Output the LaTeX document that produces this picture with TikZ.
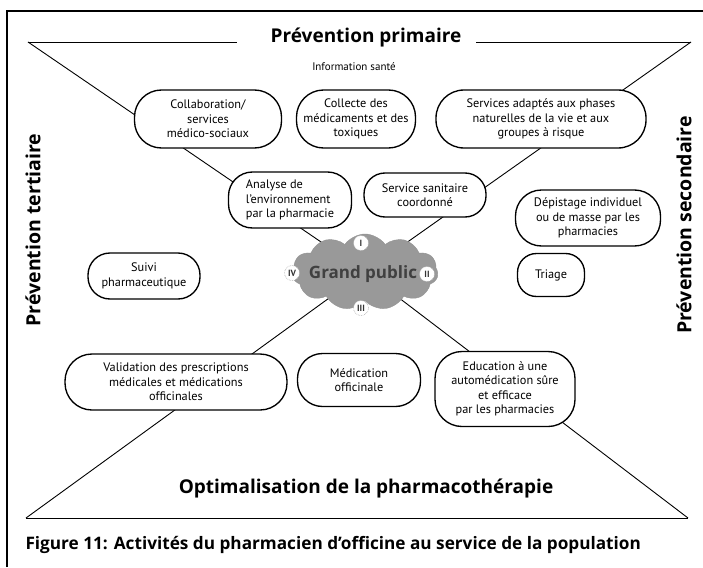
\documentclass[tikz,border=0pt]{standalone}
\usepackage{fontspec}
\setmainfont{PT Sans}
\newfontfamily\headfont{Open Sans}
\usetikzlibrary{shapes.symbols}
\tikzset{
  pill/.style={draw, line width=1.35pt, fill=white, align=center, inner sep=0pt,
    font=\fontsize{12.3}{14.5}\selectfont},
  roman/.style={circle, draw=gray!70, densely dotted, line width=0.6pt, fill=white,
    inner sep=0pt, minimum size=15pt, font=\fontsize{9}{9}\selectfont\bfseries, text=black!80},
  heading/.style={font=\headfont\fontsize{19}{19}\selectfont\bfseries},
  sideheading/.style={font=\headfont\fontsize{19.5}{19.5}\selectfont\bfseries, rotate=90},
  xline/.style={line width=0.9pt}
}
\begin{document}
\begin{tikzpicture}[x=1pt,y=-1pt]
\useasboundingbox (0,0) rectangle (703,567);
\fill[white] (0,0) rectangle (703,567);
% frame
\coordinate (f0) at (7,567);
\coordinate (f1) at (7,11);
\coordinate (f2) at (703,11);
\draw[line width=1.3pt] (f0) -- (f1) -- (f2);
% hourglass
\coordinate (tl) at (28,42);
\coordinate (tr) at (691,42);
\coordinate (bl) at (26,518);
\coordinate (br) at (688,518);
\coordinate (c) at (365,272);
\coordinate (gapl) at (237,42);
\coordinate (gapr) at (476,42);
\draw[xline] (tl) -- (gapl);
\draw[xline] (gapr) -- (tr);
\draw[xline] (bl) -- (br);
\draw[xline] (tl) -- (c);
\draw[xline] (tr) -- (c);
\draw[xline] (bl) -- (c);
\draw[xline] (br) -- (c);
% headings
\node[heading, anchor=base] (pp) at (366,43) {Prévention primaire};
\node[heading, anchor=base] (opt) at (366,493) {Optimalisation de la pharmacothérapie};
\node[sideheading] (pt) at (33,230) {Prévention tertiaire};
\node[sideheading] (ps) at (684,225) {Prévention secondaire};
\node[font=\fontsize{11}{12}\selectfont] (info) at (354,67) {Information santé};
% boxes
\node[pill, minimum width=147pt, minimum height=58pt, rounded corners=27pt] (collab) at (208,119)
  {Collaboration/\\services\\médico-sociaux};
\node[pill, minimum width=119pt, minimum height=58pt, rounded corners=27pt] (collecte) at (356,119)
  {Collecte des\\médicaments et des\\toxiques};
\node[pill, minimum width=210pt, minimum height=58pt, rounded corners=28pt] (services) at (541,119)
  {Services adaptés aux phases\\naturelles de la vie et aux\\groupes à risque};
\node[pill, align=left, minimum width=123pt, minimum height=56pt, rounded corners=24pt] (analyse) at (290,200)
  {Analyse de\\l’environnement\\par la pharmacie};
\node[pill, minimum width=122pt, minimum height=44pt, rounded corners=21pt] (sanitaire) at (425,195)
  {Service sanitaire\\coordonné};
\node[pill, minimum width=145pt, minimum height=56pt, rounded corners=26pt] (depistage) at (588,218)
  {Dépistage individuel\\ou de masse par les\\pharmacies};
\node[pill, minimum width=112pt, minimum height=46pt, rounded corners=22pt] (suivi) at (144,276)
  {Suivi\\pharmaceutique};
\node[pill, minimum width=67pt, minimum height=43pt, rounded corners=19pt] (triage) at (551,275)
  {Triage};
\node[pill, minimum width=222pt, minimum height=56pt, rounded corners=27pt] (validation) at (176,382)
  {Validation des prescriptions\\médicales et médications\\officinales};
\node[pill, minimum width=123pt, minimum height=53pt, rounded corners=25pt] (medication) at (359,380)
  {Médication\\officinale};
\node[pill, minimum width=140pt, minimum height=75pt, rounded corners=27pt] (education) at (505,389)
  {Education à une\\automédication sûre\\et efficace\\par les pharmacies};
% centre
\node[cloud, cloud puffs=11, cloud puff arc=110, aspect=1.95, fill=gray!80, draw=gray!85,
  minimum width=146pt, minimum height=76pt, inner sep=0pt] (gp) at (c) {};
\node[font=\headfont\fontsize{17}{17}\selectfont\bfseries, text=black!75] (gpt) at (363,274) {Grand public};
\node[roman] (r1) at (361,243) {I};
\node[roman] (r2) at (427,274) {II};
\node[roman] (r3) at (361,308) {III};
\node[roman] (r4) at (292,273) {IV};
% caption
\node[anchor=base west, font=\headfont\fontsize{17.2}{17.2}\selectfont\bfseries] (cap) at (22,549)
  {Figure 11: Activités du pharmacien d’officine au service de la population};
\end{tikzpicture}
\end{document}
